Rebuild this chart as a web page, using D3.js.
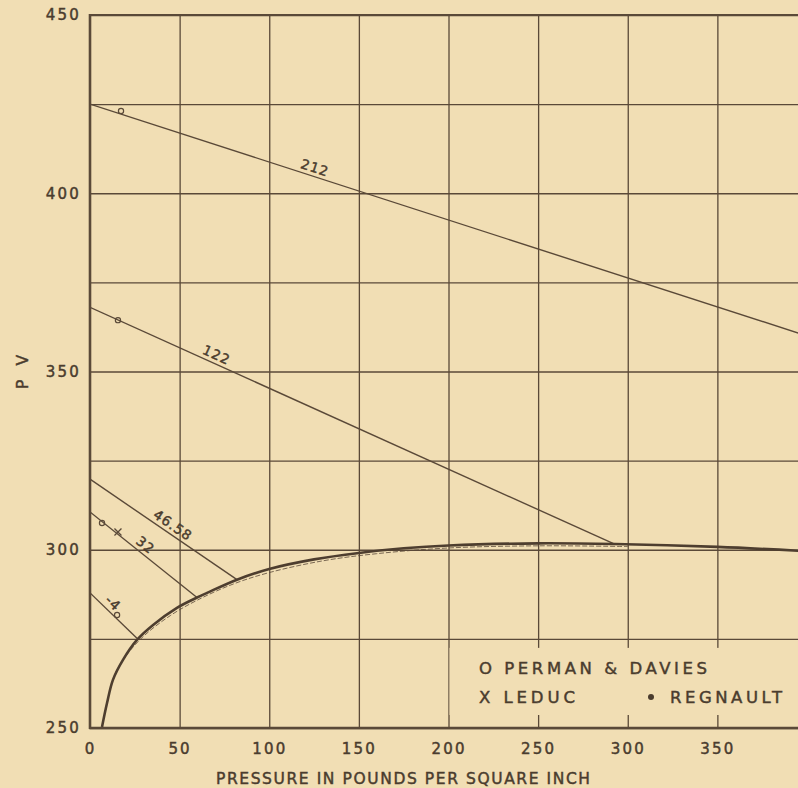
<!DOCTYPE html>
<html>
<head>
<meta charset="utf-8">
<script src="https://cdn.jsdelivr.net/npm/d3@7"></script>
<style>
  html, body { margin: 0; padding: 0; background: #f1deb4; }
  svg { display: block; }
  text { font-family: "DejaVu Sans", "Open Sans", sans-serif; fill: #4a3c2e; stroke: #4a3c2e; stroke-width: 0.45; }
</style>
</head>
<body>
<svg id="chart" width="798" height="788"></svg>
<script>
// ---------------- data ----------------
const xTickValues = [0, 50, 100, 150, 200, 250, 300, 350];
const yTickValues = [250, 300, 350, 400, 450];
const yGridValues = [250, 275, 300, 325, 350, 375, 400, 425, 450];

// saturated-vapour boundary curve (pressure, PV)
const satPressure = [6.7, 9.5, 12.8, 18.4, 26.2, 35.2, 48.5, 59.7, 65.3, 82, 100, 125, 150, 175, 200, 250, 293, 350, 400];
const satPV       = [250.3, 257, 263.5, 269.1, 274.7, 278.9, 283.7, 286.6, 287.9, 291.6, 294.6, 297.3, 299.1, 300.4, 301.2, 301.8, 301.6, 300.8, 299.6];
// faint dashed companion of the boundary curve
const satPressure2 = [14, 20, 30, 45, 60, 80, 100, 130, 160, 200, 250, 300];
const satPV2       = [265.3, 270.2, 275.8, 281.6, 285.9, 290.4, 293.6, 296.9, 298.9, 300.5, 301.1, 300.9];

// isotherms (temperature label, start pressure, start PV, end pressure, end PV)
const isoLabels   = ["212", "122", "46.58", "32", "-4"];
const isoStartP   = [0, 0, 0, 0, 0];
const isoStartPV  = [425, 368, 319.8, 310.6, 287.9];
const isoEndP     = [400, 293, 82, 59.7, 26.2];
const isoEndPV    = [360, 301.5, 291.6, 286.6, 275.2];
const isoLabelAt  = [124, 68.6, 43.5, 27.9, 9.5];

// observations
const permanP  = [17.3, 15.6, 6.7, 15.1];
const permanPV = [423.1, 364.4, 307.5, 281.7];
const leducP   = [15.6];
const leducPV  = [305.0];

const legendItems = ["O PERMAN & DAVIES", "X LEDUC", "\u2022 REGNAULT"];

// ---------------- drawing ----------------
const ink = "#5a4938";
const textInk = "#4a3c2e";
const svg = d3.select("#chart");
const W = 798, H = 788;
const x = d3.scaleLinear().domain([0, 400]).range([90, 807]);
const y = d3.scaleLinear().domain([250, 450]).range([728, 15]);
const pLeft = x(0), pRight = W, pTop = y(450), pBottom = y(250);

svg.append("defs").append("clipPath").attr("id", "clip")
  .append("rect").attr("x", pLeft).attr("y", pTop).attr("width", pRight - pLeft).attr("height", pBottom - pTop);

// gridlines
const gy = svg.append("g").attr("transform", `translate(${pLeft},0)`)
  .call(d3.axisLeft(y).tickValues(yGridValues).tickSize(-(pRight - pLeft)).tickFormat(""));
gy.select(".domain").remove();
gy.selectAll("line").attr("stroke", ink).attr("stroke-width", 1.3);

const gx = svg.append("g").attr("transform", `translate(0,${pBottom})`)
  .call(d3.axisBottom(x).tickValues(xTickValues.slice(1)).tickSize(-(pBottom - pTop)).tickFormat(""));
gx.select(".domain").remove();
gx.selectAll("line").attr("stroke", ink).attr("stroke-width", 1.3);

// legend box (masks gridlines)
svg.append("rect").attr("x", x(200) + 1).attr("y", y(275) + 9)
  .attr("width", pRight - x(200)).attr("height", (pBottom - 13) - (y(275) + 9))
  .attr("fill", "#f1deb4");

// frame
svg.append("line").attr("x1", pLeft).attr("x2", pRight).attr("y1", pTop).attr("y2", pTop)
  .attr("stroke", ink).attr("stroke-width", 2.2);
svg.append("line").attr("x1", pLeft).attr("x2", pLeft).attr("y1", pTop - 1).attr("y2", pBottom + 1)
  .attr("stroke", ink).attr("stroke-width", 2.6);
svg.append("line").attr("x1", pLeft - 1).attr("x2", pRight).attr("y1", pBottom).attr("y2", pBottom)
  .attr("stroke", ink).attr("stroke-width", 2.6);

// tick labels
const ax = svg.append("g").attr("transform", `translate(0,${pBottom})`)
  .call(d3.axisBottom(x).tickValues(xTickValues).tickSize(0).tickPadding(15).tickFormat(d3.format("d")));
ax.select(".domain").remove();
ax.selectAll("text").attr("font-size", 15).attr("letter-spacing", 2.2).attr("fill", textInk)
  .attr("font-family", "DejaVu Sans");

const ay = svg.append("g").attr("transform", `translate(${pLeft},0)`)
  .call(d3.axisLeft(y).tickValues(yTickValues).tickSize(0).tickPadding(9).tickFormat(d3.format("d")));
ay.select(".domain").remove();
ay.selectAll("text").attr("font-size", 15).attr("letter-spacing", 2.2).attr("fill", textInk)
  .attr("font-family", "DejaVu Sans");

// axis titles
svg.append("text").attr("x", 216).attr("y", 784)
  .attr("font-size", 15.5).attr("textLength", 374).attr("lengthAdjust", "spacing")
  .text("PRESSURE IN POUNDS PER SQUARE INCH");
svg.append("text").attr("transform", "translate(28,389) rotate(-90)")
  .attr("font-size", 15.5).attr("textLength", 34).attr("lengthAdjust", "spacing")
  .text("P V");

const plot = svg.append("g").attr("clip-path", "url(#clip)");
const lineGen = d3.line().x(d => x(d[0])).y(d => y(d[1]));

// isotherms
isoLabels.forEach((lab, i) => {
  const pts = [[isoStartP[i], isoStartPV[i]], [isoEndP[i], isoEndPV[i]]];
  plot.append("path").attr("d", lineGen(pts)).attr("fill", "none")
    .attr("stroke", ink).attr("stroke-width", 1.4);
  const slope = (isoEndPV[i] - isoStartPV[i]) / (isoEndP[i] - isoStartP[i]);
  const p = isoLabelAt[i];
  const pv = isoStartPV[i] + slope * (p - isoStartP[i]);
  const dx = x(isoEndP[i]) - x(isoStartP[i]), dy = y(isoEndPV[i]) - y(isoStartPV[i]);
  const ang = Math.atan2(dy, dx) * 180 / Math.PI;
  svg.append("text")
    .attr("transform", `translate(${x(p)},${y(pv)}) rotate(${ang})`)
    .attr("x", 0).attr("y", -4).attr("text-anchor", "middle")
    .attr("font-size", 13.5).attr("letter-spacing", 1)
    .text(lab);
});

// saturation curve
const sat = satPressure.map((p, i) => [p, satPV[i]]);
const sat2 = satPressure2.map((p, i) => [p, satPV2[i]]);
const smooth = d3.line().x(d => x(d[0])).y(d => y(d[1])).curve(d3.curveCatmullRom.alpha(0.5));
plot.append("path").attr("d", smooth(sat2)).attr("fill", "none")
  .attr("stroke", ink).attr("stroke-width", 1).attr("stroke-dasharray", "5,2").attr("opacity", 0.8);
plot.append("path").attr("d", smooth(sat)).attr("fill", "none")
  .attr("stroke", "#4e3e2f").attr("stroke-width", 2.6);

// observations
plot.selectAll(".perman").data(permanP).join("circle")
  .attr("cx", (d) => x(d)).attr("cy", (d, i) => y(permanPV[i])).attr("r", 2.6)
  .attr("fill", "none").attr("stroke", ink).attr("stroke-width", 1.2);
plot.selectAll(".leduc").data(leducP).join("path")
  .attr("d", (d, i) => {
    const cx = x(d), cy = y(leducPV[i]), s = 3.5;
    return `M${cx - s},${cy - s}L${cx + s},${cy + s}M${cx - s},${cy + s}L${cx + s},${cy - s}`;
  })
  .attr("stroke", ink).attr("stroke-width", 1.3);

// legend text
const lg = svg.append("g").attr("font-size", 16.5);
lg.append("text").attr("x", 479).attr("y", 674).attr("textLength", 228).attr("lengthAdjust", "spacing").text(legendItems[0]);
lg.append("text").attr("x", 479).attr("y", 703).attr("textLength", 96).attr("lengthAdjust", "spacing").text(legendItems[1]);
lg.append("circle").attr("cx", 651).attr("cy", 697).attr("r", 3).attr("fill", textInk);
lg.append("text").attr("x", 670).attr("y", 703).attr("textLength", 112).attr("lengthAdjust", "spacing").text(legendItems[2].slice(2));
</script>
</body>
</html>
